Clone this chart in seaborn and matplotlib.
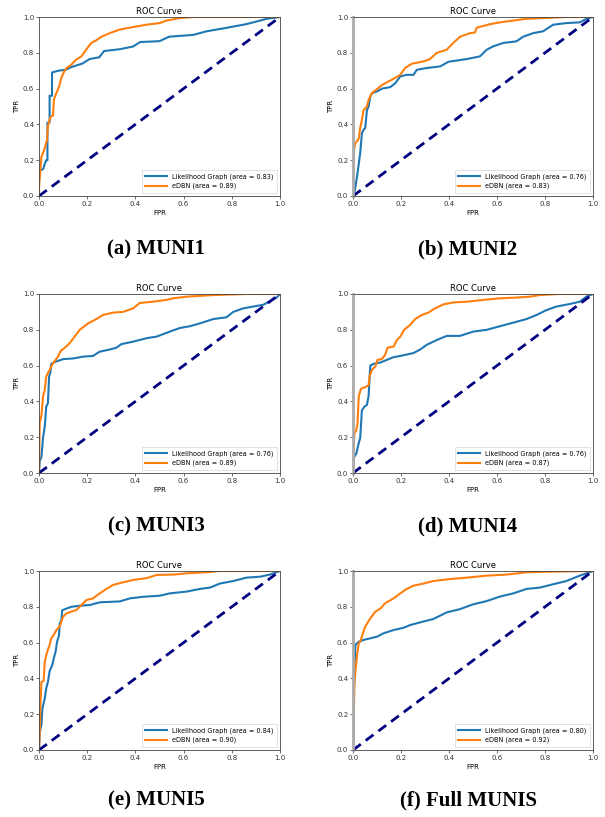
import matplotlib
matplotlib.use("Agg")
import matplotlib.pyplot as plt
import seaborn as sns

# ROC points: (fpr, tpr) for Likelihood Graph (lg) and eDBN
muni1_lg_fpr = [0.0, 0.0, 0.017, 0.024, 0.030, 0.035, 0.035, 0.044, 0.044, 0.054, 0.054, 0.080, 0.11, 0.134, 0.18, 0.21, 0.25, 0.27, 0.335, 0.39, 0.42, 0.50, 0.54, 0.64, 0.695, 0.78, 0.86, 0.917, 0.945, 1.0]
muni1_lg_tpr = [0.0, 0.14, 0.15, 0.18, 0.20, 0.20, 0.41, 0.41, 0.56, 0.56, 0.69, 0.70, 0.705, 0.72, 0.74, 0.765, 0.775, 0.81, 0.82, 0.835, 0.86, 0.865, 0.89, 0.90, 0.92, 0.94, 0.96, 0.98, 0.99, 1.0]
muni1_edbn_fpr = [0.0, 0.0, 0.010, 0.017, 0.024, 0.033, 0.037, 0.047, 0.058, 0.062, 0.072, 0.083, 0.093, 0.102, 0.114, 0.134, 0.152, 0.176, 0.197, 0.217, 0.238, 0.259, 0.294, 0.335, 0.391, 0.446, 0.501, 0.529, 0.584, 0.64, 1.0]
muni1_edbn_tpr = [0.0, 0.05, 0.22, 0.24, 0.27, 0.31, 0.39, 0.44, 0.45, 0.54, 0.575, 0.61, 0.66, 0.69, 0.715, 0.733, 0.76, 0.78, 0.82, 0.855, 0.87, 0.89, 0.91, 0.93, 0.944, 0.957, 0.966, 0.98, 0.994, 1.0, 1.0]

muni2_lg_fpr = [0.0, 0.003, 0.010, 0.017, 0.024, 0.030, 0.037, 0.044, 0.051, 0.058, 0.065, 0.072, 0.079, 0.100, 0.121, 0.155, 0.176, 0.197, 0.224, 0.252, 0.266, 0.307, 0.363, 0.398, 0.474, 0.529, 0.557, 0.584, 0.626, 0.681, 0.709, 0.751, 0.792, 0.834, 0.889, 0.945, 0.972, 1.0]
muni2_lg_tpr = [0.0, 0.0, 0.05, 0.11, 0.18, 0.24, 0.35, 0.37, 0.38, 0.48, 0.50, 0.556, 0.575, 0.584, 0.60, 0.608, 0.63, 0.668, 0.677, 0.677, 0.705, 0.715, 0.724, 0.75, 0.765, 0.78, 0.817, 0.836, 0.855, 0.864, 0.89, 0.91, 0.92, 0.957, 0.966, 0.97, 0.99, 1.0]
muni2_edbn_fpr = [0.0, 0.003, 0.010, 0.024, 0.030, 0.037, 0.044, 0.058, 0.065, 0.079, 0.100, 0.121, 0.148, 0.176, 0.197, 0.217, 0.245, 0.294, 0.321, 0.349, 0.390, 0.418, 0.446, 0.488, 0.508, 0.515, 0.543, 0.571, 0.612, 0.668, 0.723, 0.806, 0.889, 1.0]
muni2_edbn_tpr = [0.0, 0.25, 0.295, 0.32, 0.38, 0.425, 0.48, 0.50, 0.537, 0.575, 0.597, 0.62, 0.64, 0.66, 0.677, 0.715, 0.739, 0.752, 0.765, 0.80, 0.817, 0.855, 0.89, 0.91, 0.913, 0.94, 0.95, 0.96, 0.97, 0.98, 0.99, 0.995, 1.0, 1.0]

muni3_lg_fpr = [0.0, 0.003, 0.010, 0.017, 0.024, 0.030, 0.037, 0.042, 0.047, 0.051, 0.065, 0.100, 0.141, 0.183, 0.224, 0.252, 0.294, 0.321, 0.342, 0.391, 0.446, 0.488, 0.543, 0.584, 0.626, 0.668, 0.723, 0.778, 0.806, 0.848, 0.889, 0.931, 0.958, 0.986, 1.0]
muni3_lg_tpr = [0.0, 0.065, 0.09, 0.20, 0.26, 0.37, 0.39, 0.54, 0.56, 0.61, 0.62, 0.636, 0.64, 0.65, 0.654, 0.678, 0.69, 0.70, 0.72, 0.734, 0.753, 0.762, 0.79, 0.81, 0.82, 0.836, 0.86, 0.87, 0.90, 0.92, 0.93, 0.94, 0.96, 0.98, 1.0]
muni3_edbn_fpr = [0.0, 0.003, 0.010, 0.017, 0.024, 0.030, 0.044, 0.058, 0.079, 0.089, 0.107, 0.127, 0.148, 0.169, 0.204, 0.238, 0.266, 0.307, 0.349, 0.391, 0.418, 0.474, 0.529, 0.557, 0.612, 0.723, 0.861, 1.0]
muni3_edbn_tpr = [0.0, 0.28, 0.32, 0.43, 0.465, 0.54, 0.576, 0.613, 0.65, 0.68, 0.70, 0.725, 0.762, 0.80, 0.836, 0.86, 0.883, 0.896, 0.90, 0.92, 0.95, 0.957, 0.967, 0.976, 0.985, 0.994, 1.0, 1.0]

muni4_lg_fpr = [0.0, 0.003, 0.014, 0.024, 0.030, 0.037, 0.047, 0.058, 0.065, 0.072, 0.086, 0.114, 0.141, 0.169, 0.197, 0.252, 0.280, 0.307, 0.349, 0.391, 0.446, 0.501, 0.557, 0.612, 0.668, 0.723, 0.765, 0.806, 0.848, 0.903, 0.945, 0.972, 1.0]
muni4_lg_tpr = [0.0, 0.084, 0.11, 0.167, 0.195, 0.35, 0.37, 0.38, 0.43, 0.60, 0.61, 0.617, 0.632, 0.647, 0.654, 0.67, 0.69, 0.716, 0.743, 0.766, 0.766, 0.79, 0.80, 0.82, 0.84, 0.86, 0.883, 0.91, 0.93, 0.944, 0.957, 0.985, 1.0]
muni4_edbn_fpr = [0.0, 0.003, 0.006, 0.014, 0.019, 0.024, 0.033, 0.051, 0.065, 0.069, 0.079, 0.093, 0.102, 0.120, 0.134, 0.144, 0.169, 0.183, 0.197, 0.213, 0.238, 0.259, 0.287, 0.314, 0.342, 0.377, 0.418, 0.474, 0.543, 0.612, 0.681, 0.737, 0.778, 0.861, 1.0]
muni4_edbn_tpr = [0.0, 0.15, 0.22, 0.24, 0.28, 0.43, 0.47, 0.48, 0.49, 0.54, 0.576, 0.595, 0.632, 0.636, 0.66, 0.70, 0.706, 0.743, 0.762, 0.80, 0.827, 0.86, 0.883, 0.896, 0.92, 0.942, 0.953, 0.957, 0.967, 0.976, 0.98, 0.985, 0.994, 1.0, 1.0]

muni5_lg_fpr = [0.0, 0.003, 0.010, 0.014, 0.024, 0.030, 0.037, 0.044, 0.055, 0.061, 0.069, 0.075, 0.083, 0.086, 0.093, 0.096, 0.114, 0.134, 0.169, 0.211, 0.252, 0.335, 0.377, 0.432, 0.501, 0.543, 0.612, 0.668, 0.709, 0.751, 0.806, 0.861, 0.917, 0.958, 1.0]
muni5_lg_tpr = [0.0, 0.10, 0.14, 0.23, 0.29, 0.345, 0.38, 0.44, 0.475, 0.51, 0.55, 0.605, 0.64, 0.707, 0.726, 0.78, 0.79, 0.80, 0.806, 0.81, 0.825, 0.83, 0.847, 0.856, 0.862, 0.875, 0.885, 0.90, 0.907, 0.93, 0.944, 0.963, 0.968, 0.98, 1.0]
muni5_edbn_fpr = [0.0, 0.003, 0.006, 0.010, 0.019, 0.024, 0.030, 0.037, 0.044, 0.051, 0.061, 0.072, 0.086, 0.100, 0.114, 0.134, 0.155, 0.176, 0.197, 0.224, 0.252, 0.280, 0.307, 0.349, 0.391, 0.446, 0.488, 0.557, 0.612, 0.695, 0.751, 1.0]
muni5_edbn_tpr = [0.0, 0.10, 0.25, 0.38, 0.385, 0.49, 0.53, 0.56, 0.587, 0.624, 0.642, 0.67, 0.69, 0.745, 0.763, 0.773, 0.782, 0.81, 0.838, 0.847, 0.875, 0.90, 0.922, 0.937, 0.95, 0.96, 0.978, 0.98, 0.987, 0.993, 1.0, 1.0]

full_lg_fpr = [0.0, 0.003, 0.006, 0.010, 0.024, 0.044, 0.072, 0.100, 0.127, 0.169, 0.211, 0.238, 0.280, 0.335, 0.391, 0.446, 0.501, 0.557, 0.612, 0.668, 0.723, 0.778, 0.834, 0.889, 0.945, 1.0]
full_lg_tpr = [0.0, 0.31, 0.44, 0.587, 0.605, 0.615, 0.624, 0.633, 0.652, 0.67, 0.683, 0.698, 0.713, 0.732, 0.769, 0.787, 0.814, 0.832, 0.857, 0.875, 0.90, 0.907, 0.926, 0.944, 0.974, 1.0]
full_edbn_fpr = [0.0, 0.003, 0.006, 0.010, 0.017, 0.024, 0.030, 0.037, 0.051, 0.072, 0.093, 0.114, 0.134, 0.169, 0.197, 0.224, 0.252, 0.294, 0.335, 0.404, 0.474, 0.557, 0.640, 0.723, 0.806, 1.0]
full_edbn_tpr = [0.0, 0.177, 0.363, 0.44, 0.53, 0.596, 0.605, 0.633, 0.69, 0.735, 0.773, 0.79, 0.82, 0.847, 0.875, 0.90, 0.918, 0.93, 0.944, 0.955, 0.963, 0.974, 0.98, 0.993, 0.996, 1.0]

lg_auc = [0.83, 0.76, 0.76, 0.76, 0.84, 0.80]
edbn_auc = [0.89, 0.83, 0.89, 0.87, 0.90, 0.92]
captions = ["(a) MUNI1", "(b) MUNI2", "(c) MUNI3", "(d) MUNI4", "(e) MUNI5", "(f) Full MUNIS"]

panels = [
    (muni1_lg_fpr, muni1_lg_tpr, muni1_edbn_fpr, muni1_edbn_tpr),
    (muni2_lg_fpr, muni2_lg_tpr, muni2_edbn_fpr, muni2_edbn_tpr),
    (muni3_lg_fpr, muni3_lg_tpr, muni3_edbn_fpr, muni3_edbn_tpr),
    (muni4_lg_fpr, muni4_lg_tpr, muni4_edbn_fpr, muni4_edbn_tpr),
    (muni5_lg_fpr, muni5_lg_tpr, muni5_edbn_fpr, muni5_edbn_tpr),
    (full_lg_fpr, full_lg_tpr, full_edbn_fpr, full_edbn_tpr),
]

W, H = 605, 817
fig = plt.figure(figsize=(W / 100, H / 100), dpi=100)

col_left = [39, 353]
col_w = [241, 240]
row_top = [17, 294, 571]
ax_h = 179
cap_x = [156, 468]
cap_y = [249, 526, 800]

for i, (lg_x, lg_y, ed_x, ed_y) in enumerate(panels):
    r, c = divmod(i, 2)
    ax = fig.add_axes([col_left[c] / W, 1 - (row_top[r] + ax_h) / H,
                       col_w[c] / W, ax_h / H])
    sns.lineplot(x=lg_x, y=lg_y, ax=ax, sort=False, estimator=None,
                 color="#1f77b4", lw=1.5,
                 label=f"Likelihood Graph (area = {lg_auc[i]:.2f})")
    sns.lineplot(x=ed_x, y=ed_y, ax=ax, sort=False, estimator=None,
                 color="#ff7f0e", lw=1.5,
                 label=f"eDBN (area = {edbn_auc[i]:.2f})")
    ax.plot([0, 1], [0, 1], color="navy", lw=2, linestyle="--", dashes=(3.5, 2.2))
    ax.set_xlim(0, 1)
    ax.set_ylim(0, 1)
    ax.set_xticks([0, 0.2, 0.4, 0.6, 0.8, 1.0])
    ax.set_yticks([0, 0.2, 0.4, 0.6, 0.8, 1.0])
    ax.tick_params(labelsize=5, length=2, width=0.5, pad=1.5, colors="#333333")
    ax.set_xlabel("FPR", fontsize=5, labelpad=2)
    ax.set_ylabel("TPR", fontsize=5, labelpad=2)
    ax.set_title("ROC Curve", fontsize=6, pad=2.5)
    for s in ax.spines.values():
        s.set_linewidth(0.6)
        s.set_color("#444444")
    if c == 1:
        ax.spines["left"].set_color("#aaaaaa")
        ax.spines["left"].set_linewidth(2)
    leg = ax.legend(loc="lower right", fontsize=4.7, handlelength=3.3,
                    borderpad=0.5, labelspacing=0.5, fancybox=False)
    leg.get_frame().set_linewidth(0.5)
    fig.text(cap_x[c] / W, 1 - cap_y[r] / H, captions[i], ha="center", va="center",
             fontsize=15, fontweight="bold", family="Liberation Serif")

fig.savefig("out.png", dpi=100)
